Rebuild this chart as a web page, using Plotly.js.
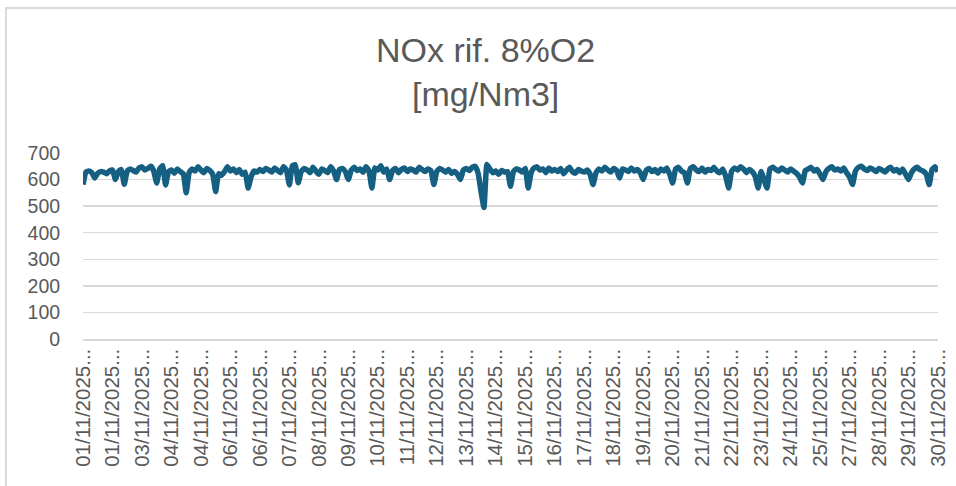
<!DOCTYPE html>
<html>
<head>
<meta charset="utf-8">
<script src="https://cdn.plot.ly/plotly-3.0.1.min.js"></script>
<style>
  html, body { margin: 0; padding: 0; background: #fff; }
  #wrap { position: relative; width: 956px; height: 486px; overflow: hidden; }
  #chart { width: 956px; height: 486px; }
  #frame { position: absolute; left: 5px; top: 7px; width: 970px; height: 500px;
           border: 2px solid #d9d9d9; box-sizing: border-box; pointer-events: none; }
</style>
</head>
<body>
<div id="wrap">
  <div id="chart"></div>
  <div id="frame"></div>
</div>
<script>
// NOx rif. 8%O2 [mg/Nm3]
const nox = [
  581, 628, 632, 626, 606, 624, 630, 628, 622, 633,
  636, 600, 630, 638, 582, 632, 640, 634, 628, 644,
  648, 636, 642, 650, 632, 587, 640, 652, 580, 630,
  636, 624, 640, 630, 622, 550, 626, 640, 632, 648,
  636, 626, 642, 634, 620, 555, 622, 616, 630, 648,
  632, 640, 626, 638, 620, 628, 568, 610, 632, 628,
  638, 630, 642, 636, 628, 644, 634, 626, 648, 636,
  580, 652, 656, 588, 630, 642, 636, 626, 646, 632,
  620, 640, 634, 626, 648, 632, 600, 638, 642, 630,
  600, 636, 646, 634, 640, 628, 648, 632, 568, 644,
  636, 652, 628, 640, 600, 634, 642, 626, 638, 644,
  630, 640, 636, 628, 646, 638, 630, 640, 634, 581,
  630, 642, 636, 628, 638, 624, 630, 620, 600, 636,
  642, 634, 646, 650, 625, 555, 495, 657, 640, 626,
  632, 620, 634, 628, 630, 575, 630, 640, 636, 628,
  642, 568, 626, 644, 648, 636, 640, 626, 644, 632,
  638, 630, 642, 622, 636, 646, 630, 624, 638, 632,
  628, 636, 620, 581, 626, 640, 632, 646, 636, 628,
  642, 634, 606, 640, 636, 630, 644, 632, 638, 626,
  600, 634, 642, 630, 638, 624, 640, 632, 644, 620,
  587, 640, 646, 632, 626, 587, 642, 648, 636, 630,
  644, 628, 638, 634, 646, 632, 626, 640, 612, 568,
  632, 644, 636, 648, 640, 626, 638, 630, 612, 568,
  630, 600, 568, 640, 646, 638, 632, 644, 636, 628,
  640, 632, 624, 610, 587, 634, 640, 646, 632, 638,
  620, 600, 630, 642, 648, 636, 640, 632, 644, 626,
  610, 581, 632, 646, 650, 640, 634, 644, 638, 630,
  642, 636, 628, 640, 646, 632, 638, 626, 640, 620,
  600, 626, 640, 646, 636, 632, 620, 581, 638, 648,
  630
];

// Category tick labels shown on the x axis (one every 10 samples)
const tickLabels = [
  "01/11/2025...", "01/11/2025...", "03/11/2025...", "04/11/2025...", "04/11/2025...",
  "06/11/2025...", "06/11/2025...", "07/11/2025...", "08/11/2025...", "09/11/2025...",
  "10/11/2025...", "11/11/2025...", "12/11/2025...", "13/11/2025...", "14/11/2025...",
  "15/11/2025...", "16/11/2025...", "17/11/2025...", "18/11/2025...", "19/11/2025...",
  "20/11/2025...", "21/11/2025...", "22/11/2025...", "23/11/2025...", "24/11/2025...",
  "25/11/2025...", "27/11/2025...", "28/11/2025...", "29/11/2025...", "30/11/2025..."
];
const labelStep = 10;

const xIdx = nox.map((_, i) => i);
const tickVals = tickLabels.map((_, i) => i * labelStep);

const trace = {
  x: xIdx,
  y: nox,
  type: 'scatter',
  mode: 'lines',
  line: { color: '#156082', width: 5.5, shape: 'spline', smoothing: 0.4 },
  hoverinfo: 'y'
};

const layout = {
  width: 956,
  height: 486,
  paper_bgcolor: '#ffffff',
  plot_bgcolor: '#ffffff',
  margin: { l: 83, r: 18, t: 153, b: 147 },
  showlegend: false,
  title: {
    text: 'NOx rif. 8%O2<br>[mg/Nm3]',
    font: { family: '"Liberation Sans", Arial, sans-serif', size: 34, color: '#595959' },
    x: 0.508, xref: 'container', xanchor: 'center',
    y: 0.872, yref: 'container', yanchor: 'top'
  },
  xaxis: {
    type: 'linear',
    range: [0, nox.length - 1],
    tickmode: 'array',
    tickvals: tickVals,
    ticktext: tickLabels,
    tickangle: -90,
    tickfont: { family: '"Liberation Sans", Arial, sans-serif', size: 20.5, color: '#595959' },
    showgrid: false,
    zeroline: false,
    showline: true,
    linecolor: '#d9d9d9',
    linewidth: 1.5,
    ticks: '',
    fixedrange: true
  },
  yaxis: {
    range: [0, 700],
    tickmode: 'linear',
    tick0: 0,
    dtick: 100,
    tickfont: { family: '"Liberation Sans", Arial, sans-serif', size: 19.5, color: '#595959' },
    showgrid: true,
    gridcolor: '#d9d9d9',
    gridwidth: 1.5,
    zeroline: false,
    showline: false,
    ticks: 'outside',
    ticklen: 18,
    tickcolor: 'rgba(0,0,0,0)',
    fixedrange: true
  }
};

Plotly.newPlot('chart', [trace], layout, { displayModeBar: false, staticPlot: true });
</script>
</body>
</html>
